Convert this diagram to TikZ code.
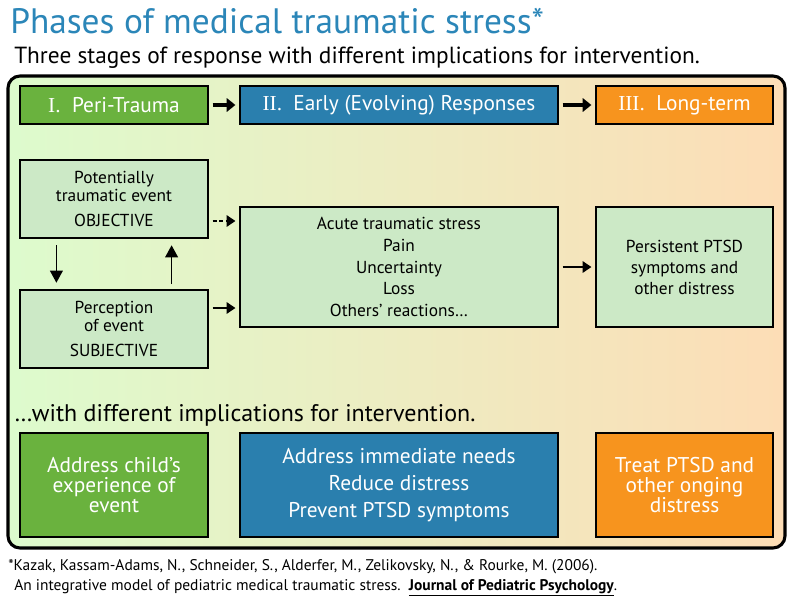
\documentclass[tikz,border=0pt]{standalone}
\usepackage{fontspec}
\setmainfont{PT Sans}
\newfontfamily\numfont{Liberation Serif}
\usetikzlibrary{arrows.meta}
\definecolor{titleblue}{HTML}{2B86B8}
\definecolor{phasegreen}{HTML}{6AB23E}
\definecolor{phaseblue}{HTML}{2A7FAE}
\definecolor{phaseorange}{HTML}{F7941E}
\definecolor{boxgreen}{HTML}{CCE9C6}
\definecolor{bgleft}{HTML}{DDFBCD}
\definecolor{bgmid}{HTML}{C1E8FA}
\definecolor{bgright}{HTML}{FDDDB6}
\tikzset{
	phase/.style={draw, line width=0.9pt, text=white, minimum height=28.5pt, font=\fontsize{16}{18}\selectfont},
	stagebox/.style={draw, line width=0.9pt, fill=boxgreen, align=center, font=\fontsize{13}{16.3}\selectfont},
	actbox/.style={draw, line width=0.9pt, text=white, align=center, minimum height=78pt},
	arr/.style={-{Triangle[length=6.5pt,width=8.5pt]}, line width=1.2pt, shorten <=3pt, shorten >=3pt},
	vertarr/.style={-{Triangle[length=9pt,width=9.5pt]}, line width=1.2pt},
	bigarr/.style={-{Triangle[length=6.5pt,width=10pt]}, line width=3pt, shorten <=3pt, shorten >=3pt}
}
\begin{document}
\begin{tikzpicture}[x=0.75pt,y=-0.75pt]
	\useasboundingbox (0,0) rectangle (800,600);
	% heading
	\node[anchor=base west, inner sep=0pt, text=titleblue, font=\fontsize{26.5}{28}\selectfont] (title) at (10,33) {Phases of medical traumatic stress*};
	\node[anchor=base west, inner sep=0pt, font=\fontsize{17.5}{20}\selectfont] (sub) at (14,63) {Three stages of response with different implications for intervention.};
	% background panel
	\shade[rounded corners=9pt, left color=bgleft, middle color=bgmid, right color=bgright] (8,76) rectangle (785,548);
	\draw[line width=2.3pt, rounded corners=9pt] (8,76) rectangle (785,548);
	% phases
	\node[phase, fill=phasegreen, minimum width=141pt] (peri) at (114,105) {{\numfont I.}\ \ Peri-Trauma};
	\node[phase, fill=phaseblue, minimum width=238.5pt] (early) at (399,105) {{\numfont II.}\ \ Early (Evolving) Responses};
	\node[phase, fill=phaseorange, minimum width=132.75pt] (long) at (684.5,105) {{\numfont III.}\ \ Long-term};
	\draw[bigarr] (peri) -- (early);
	\draw[bigarr] (early) -- (long);
	% responses
	\node[stagebox, minimum width=141pt, minimum height=58.5pt] (event) at (114,199) {Potentially\\[-3pt]traumatic event\\[3pt]OBJECTIVE};
	\node[stagebox, minimum width=141pt, minimum height=58.5pt] (percep) at (114,329) {Perception\\[-3pt]of event\\[3pt]SUBJECTIVE};
	\node[stagebox, minimum width=238.5pt, minimum height=90pt] (acute) at (399,267) {Acute traumatic stress\\Pain\\Uncertainty\\Loss\\Others' reactions\dots};
	\node[stagebox, minimum width=132.75pt, minimum height=90pt, font=\fontsize{13}{15.75}\selectfont] (persist) at (684.5,267) {Persistent PTSD\\symptoms and\\other distress};
	\draw[vertarr, shorten <=5pt, shorten >=5pt] ([xshift=27.75pt]event.south west) -- ([xshift=27.75pt]percep.north west);
	\draw[vertarr, shorten <=4pt, shorten >=5pt] ([xshift=-27.75pt]percep.north east) -- ([xshift=-27.75pt]event.south east);
	\draw[arr, dash pattern=on 3pt off 2pt] ([yshift=-16.5pt]event.east) -- ([yshift=-16.5pt]event.east -| acute.west);
	\draw[arr] ([yshift=15.75pt]percep.east) -- ([yshift=15.75pt]percep.east -| acute.west);
	\draw[arr] (acute) -- (persist);
	% interventions
	\node[anchor=base west, inner sep=0pt, font=\fontsize{18}{20}\selectfont] (with) at (14,421) {\dots with different implications for intervention.};
	\node[actbox, fill=phasegreen, minimum width=141pt, font=\fontsize{16}{15}\selectfont] (child) at (114,485) {Address child's\\experience of\\event};
	\node[actbox, fill=phaseblue, minimum width=238.5pt, font=\fontsize{16}{20}\selectfont] (needs) at (399,485) {Address immediate needs\\Reduce distress\\Prevent PTSD symptoms};
	\node[actbox, fill=phaseorange, minimum width=132.75pt, font=\fontsize{16}{15}\selectfont] (treat) at (684.5,485) {Treat PTSD and\\other onging\\distress};
	% reference
	\node[anchor=base west, inner sep=0pt, font=\fontsize{11.6}{13}\selectfont] (ref1) at (8,570) {*Kazak, Kassam-Adams, N., Schneider, S., Alderfer, M., Zelikovsky, N., \& Rourke, M. (2006).};
	\node[anchor=base west, inner sep=0pt, font=\fontsize{11.6}{13}\selectfont] (ref2) at (14,590) {An integrative model of pediatric medical traumatic stress.\ \ \textbf{\underline{Journal of Pediatric Psychology}}.};
\end{tikzpicture}
\end{document}
